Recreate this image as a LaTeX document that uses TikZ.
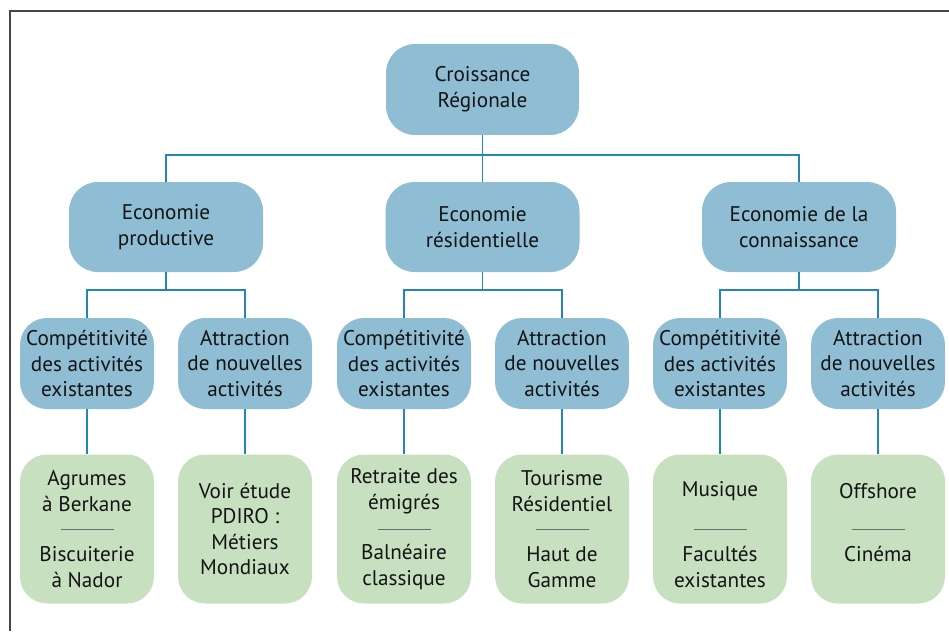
\documentclass[tikz,border=0pt]{standalone}
\usepackage{fontspec}
\setmainfont{PT Sans}
\definecolor{nodeblue}{RGB}{143,189,212}
\definecolor{nodegreen}{RGB}{199,224,191}
\definecolor{linkblue}{RGB}{35,134,180}
\definecolor{framegray}{RGB}{70,70,70}
\definecolor{sepgray}{RGB}{110,110,110}
\definecolor{txtcol}{RGB}{20,20,20}
\begin{document}
\begin{tikzpicture}[x=1pt,y=-1pt,
  base/.style={draw=none, align=center, inner sep=0pt, text=txtcol,
    font=\fontsize{21.2}{25.6}\selectfont},
  bluebox/.style={base, fill=nodeblue, rounded corners=29pt},
  greenbox/.style={base, fill=nodegreen, rounded corners=27pt,
    minimum width=134pt, minimum height=149pt},
  l2box/.style={bluebox, minimum width=194pt, minimum height=90pt},
  l3box/.style={bluebox, minimum width=134pt, minimum height=91pt, rounded corners=27pt},
  txt/.style={base},
  link/.style={draw=linkblue, line width=1.3pt},
  sepline/.style={draw=sepgray, line width=0.9pt}]
\useasboundingbox (0,0) rectangle (949,631);
\draw[framegray, line width=2pt] (10,631) -- (10,11.5) -- (949,11.5);

% top
\node[bluebox, minimum width=193pt, minimum height=91pt] (top) at (482.5,89.5) {Croissance\\Régionale};

% level 2
\node[l2box] (e1) at (166,227) {Economie\\productive};
\node[l2box] (e2) at (482.5,227) {Economie\\résidentielle};
\node[l2box] (e3) at (799,227) {Economie de la\\connaissance};

% level 3
\node[l3box] (c1) at (87,363.5) {Compétitivité\\des activités\\existantes};
\node[l3box] (a1) at (245,363.5) {Attraction\\de nouvelles\\activités};
\node[l3box] (c2) at (404,363.5) {Compétitivité\\des activités\\existantes};
\node[l3box] (a2) at (562,363.5) {Attraction\\de nouvelles\\activités};
\node[l3box] (c3) at (720,363.5) {Compétitivité\\des activités\\existantes};
\node[l3box] (a3) at (878,363.5) {Attraction\\de nouvelles\\activités};

% level 4
\node[greenbox] (g1) at (87,529) {};
\node[greenbox] (g2) at (245,529) {};
\node[greenbox] (g3) at (404,529) {};
\node[greenbox] (g4) at (562,529) {};
\node[greenbox] (g5) at (720,529) {};
\node[greenbox] (g6) at (878,529) {};

\node[txt] (g1a) at ([yshift=38pt]g1.center) {Agrumes\\à Berkane};
\node[txt] (g1b) at ([yshift=-38pt]g1.center) {Biscuiterie\\à Nador};
\node[txt] (g2a) at (g2.center) {Voir étude\\PDIRO :\\Métiers\\Mondiaux};
\node[txt] (g3a) at ([yshift=38pt]g3.center) {Retraite des\\émigrés};
\node[txt] (g3b) at ([yshift=-38pt]g3.center) {Balnéaire\\classique};
\node[txt] (g4a) at ([yshift=38pt]g4.center) {Tourisme\\Résidentiel};
\node[txt] (g4b) at ([yshift=-38pt]g4.center) {Haut de\\Gamme};
\node[txt] (g5a) at ([yshift=38pt]g5.center) {Musique};
\node[txt] (g5b) at ([yshift=-38pt]g5.center) {Facultés\\existantes};
\node[txt] (g6a) at ([yshift=38pt]g6.center) {Offshore};
\node[txt] (g6b) at ([yshift=-25pt]g6.center) {Cinéma};

\foreach \g in {g1,g3,g4,g5,g6}{
  \draw[sepline] ([xshift=-26.5pt]\g.center) -- ([xshift=26.5pt]\g.center);
}

% connectors
\coordinate (j0) at (482.5,155);
\draw[link] (top.south) -- (j0);
\draw[link] (e1.north) |- (j0);
\draw[link] (e2.north) -- (j0);
\draw[link] (e3.north) |- (j0);

\coordinate (j1) at (166,290);
\coordinate (j2) at (482.5,290);
\coordinate (j3) at (799,290);
\draw[link] (e1.south) -- (j1);
\draw[link] (c1.north) |- (j1) -| (a1.north);
\draw[link] (e2.south) -- (j2);
\draw[link] (c2.north) |- (j2) -| (a2.north);
\draw[link] (e3.south) -- (j3);
\draw[link] (c3.north) |- (j3) -| (a3.north);

\draw[link] (c1.south) -- (g1.north);
\draw[link] (a1.south) -- (g2.north);
\draw[link] (c2.south) -- (g3.north);
\draw[link] (a2.south) -- (g4.north);
\draw[link] (c3.south) -- (g5.north);
\draw[link] (a3.south) -- (g6.north);
\end{tikzpicture}
\end{document}
